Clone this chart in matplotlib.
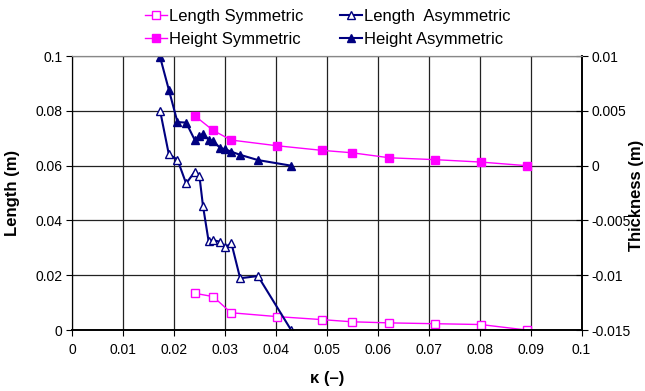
import matplotlib
matplotlib.use("Agg")
import matplotlib.pyplot as plt
import numpy as np

plt.rcParams["font.family"] = ["Liberation Sans", "DejaVu Sans"]

# symmetric case
kappa_sym = [0.0241, 0.0277, 0.0312, 0.0402, 0.0490, 0.0549, 0.0623, 0.0712, 0.0802, 0.0892]
length_sym = [0.0134, 0.0122, 0.0063, 0.0049, 0.0038, 0.0030, 0.0026, 0.0023, 0.0020, 0.0]
height_sym = [0.00455, 0.00322, 0.00234, 0.00182, 0.00140, 0.00118, 0.00072, 0.00055, 0.00033, 0.0]

# asymmetric case
kappa_asym = [0.0173, 0.0190, 0.0207, 0.0224, 0.0241, 0.0250, 0.0257, 0.0268, 0.0277,
              0.0291, 0.0300, 0.0313, 0.0330, 0.0365, 0.0430]
length_asym = [0.0800, 0.0642, 0.0622, 0.0535, 0.0578, 0.0564, 0.0454, 0.0326, 0.0328,
               0.0322, 0.0303, 0.0316, 0.0189, 0.0197, 0.0]
height_asym = [0.0099, 0.00694, 0.00398, 0.00393, 0.00234, 0.00272, 0.00291, 0.00238, 0.00224,
               0.00161, 0.00151, 0.00127, 0.00099, 0.00051, 0.0]

magenta = "#FF00FF"
navy = "#000080"

fig = plt.figure(figsize=(6.45, 3.91), dpi=100)
ax = fig.add_axes([0.1116, 0.156, 0.79, 0.7005])
ax2 = ax.twinx()

l1, = ax.plot(kappa_sym, length_sym, color=magenta, lw=1, marker="s", ms=6,
              mfc="white", mec=magenta, mew=1, label="Length Symmetric")
l3, = ax.plot(kappa_asym, length_asym, color=navy, lw=1.5, marker="^", ms=6,
              mfc="white", mec=navy, mew=1, label="Length  Asymmetric")
l2, = ax2.plot(kappa_sym, height_sym, color=magenta, lw=1, marker="s", ms=6,
               mfc=magenta, mec=magenta, label="Height Symmetric")
l4, = ax2.plot(kappa_asym, height_asym, color=navy, lw=1.5, marker="^", ms=6,
               mfc=navy, mec=navy, label="Height Asymmetric")

xt = np.arange(0, 0.1001, 0.01)
ax.set_xlim(0, 0.1)
ax.set_xticks(xt)
ax.set_xticklabels(["0"] + ["%.2f" % v for v in xt[1:-1]] + ["0.1"])
ax.set_ylim(0, 0.1)
yt = np.arange(0, 0.1001, 0.02)
ax.set_yticks(yt)
ax.set_yticklabels(["0"] + ["%.2f" % v for v in yt[1:-1]] + ["0.1"])
ax2.set_ylim(-0.015, 0.01)
rt = [-0.015, -0.01, -0.005, 0, 0.005, 0.01]
ax2.set_yticks(rt)
ax2.set_yticklabels(["-0.015", "-0.01", "-0.005", "0", "0.005", "0.01"])

ax.grid(True, color="#222222", lw=0.9)
ax.set_axisbelow(True)

for a in (ax, ax2):
    a.spines["top"].set_color("#888888")
    a.spines["left"].set_color("black")
    a.spines["right"].set_color("black")
    a.spines["right"].set_linewidth(1.2)
    a.spines["bottom"].set_linewidth(1.2)
ax.tick_params(axis="x", direction="out", length=4, labelsize=10, pad=5)
ax.tick_params(axis="y", direction="out", length=4, labelsize=10, pad=3)
ax2.tick_params(axis="y", direction="inout", length=8, labelsize=10, pad=3)

ax.set_xlabel("κ (–)", fontsize=12, fontweight="bold")
ax.xaxis.set_label_coords(0.5, -0.148)
ax.set_ylabel("Length (m)", fontsize=12, fontweight="bold")
ax.yaxis.set_label_coords(-0.102, 0.5)
ax2.set_ylabel("Thickness (m)", fontsize=12, fontweight="bold")
ax2.yaxis.set_label_coords(1.094, 0.49)

fig.legend(handles=[l1, l2, l3, l4], loc="upper left", bbox_to_anchor=(0.2248, 0.977),
           ncol=2, frameon=False, fontsize=12, handlelength=1.3, handletextpad=0.15,
           columnspacing=2.2, labelspacing=0.5, borderpad=0, borderaxespad=0)

fig.savefig("out.png", dpi=100)
